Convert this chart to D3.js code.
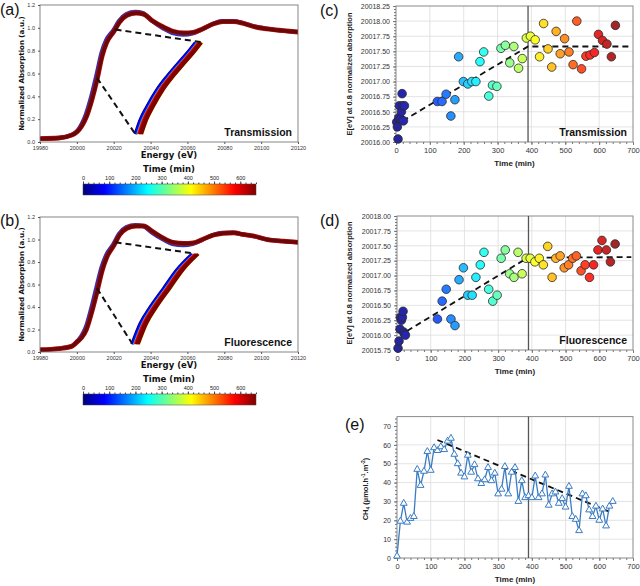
<!DOCTYPE html>
<html>
<head>
<meta charset="utf-8">
<script src="https://cdn.jsdelivr.net/npm/d3@7"></script>
<style>
  body { margin: 0; background: #fff; }
  svg { display: block; }
</style>
</head>
<body>
<div id="chart"></div>
<script>
// ---- XANES spectra ----
var energy = [19980, 19990, 19997, 20000, 20002.5, 20005, 20008, 20011, 20013.5, 20016, 20020, 20023, 20027, 20032, 20036, 20041, 20047, 20052, 20058, 20063, 20068, 20074, 20079, 20085, 20090, 20096, 20103, 20112, 20120];
var muEarlyA = [0.03, 0.035, 0.06, 0.09, 0.15, 0.24, 0.40, 0.60, 0.78, 0.89, 0.98, 1.06, 1.12, 1.14, 1.13, 1.06, 0.995, 0.955, 0.94, 0.95, 0.985, 1.035, 1.06, 1.06, 1.045, 1.015, 0.995, 0.975, 0.963];
var muLateA  = [0.03, 0.035, 0.06, 0.09, 0.14, 0.22, 0.37, 0.56, 0.75, 0.87, 0.97, 1.05, 1.11, 1.13, 1.12, 1.06, 1.005, 0.97, 0.955, 0.96, 0.99, 1.035, 1.055, 1.055, 1.04, 1.01, 0.99, 0.975, 0.963];
var muEarlyB = [0.02, 0.03, 0.05, 0.09, 0.14, 0.22, 0.39, 0.59, 0.75, 0.86, 0.96, 1.05, 1.11, 1.13, 1.12, 1.06, 1.0, 0.96, 0.95, 0.96, 0.995, 1.04, 1.06, 1.06, 1.045, 1.03, 1.0, 0.985, 0.975];
var muLateB  = [0.02, 0.03, 0.05, 0.09, 0.13, 0.20, 0.36, 0.55, 0.72, 0.84, 0.95, 1.04, 1.10, 1.12, 1.12, 1.07, 1.01, 0.975, 0.965, 0.97, 1.0, 1.04, 1.055, 1.06, 1.045, 1.03, 1.0, 0.985, 0.975];

// zoomed edge region (leftmost curve) and the shift of each time step
var insetEnergyA = [20031.5, 20034.2, 20037.8, 20043.2, 20048.6, 20054, 20059.5, 20064];
var insetMuA = [0.07, 0.195, 0.31, 0.458, 0.574, 0.676, 0.778, 0.87];
var insetEnergyB = [20029.7, 20034.2, 20039.6, 20046.8, 20054, 20062.2];
var insetMuB = [0.07, 0.254, 0.40, 0.565, 0.73, 0.87];
var insetTimes = [400, 0, 40, 90, 200, 480, 580, 640, 660, 660, 660];
var insetShifts = [4.1, 0, 0.35, 0.7, 1.1, 1.5, 1.9, 2.4, 2.9, 3.4, 3.8];

var dashA = [[[20021, 0.985], [20067.5, 0.875]], [[20011, 0.56], [20031.5, 0.075]]];
var dashB = [[[20021, 0.975], [20064, 0.875]], [[20011, 0.565], [20030, 0.075]]];

// ---- edge position vs time ----
var timeC = [2, 4, 6, 8, 10, 14, 16, 18, 20, 22, 25, 122, 136, 148, 162, 174, 185, 199, 212, 224, 236, 248, 259, 274, 285, 298, 310, 323, 336, 348, 362, 373, 385, 397, 411, 424, 436, 449, 460, 473, 485, 498, 511, 523, 534, 548, 561, 573, 586, 598, 610, 623, 636, 648];
var edgeC = [20016.33, 20016.25, 20016.05, 20016.40, 20016.60, 20016.38, 20016.50, 20016.80, 20016.60, 20016.35, 20016.60, 20016.67, 20016.67, 20016.79, 20016.43, 20016.70, 20017.41, 20017.00, 20016.96, 20017.00, 20017.00, 20017.33, 20017.49, 20016.76, 20016.94, 20016.92, 20017.55, 20017.60, 20017.31, 20017.58, 20017.22, 20017.38, 20017.72, 20017.75, 20017.69, 20017.41, 20017.96, 20017.54, 20017.24, 20017.83, 20017.46, 20017.71, 20017.49, 20017.28, 20018.00, 20017.21, 20017.42, 20017.44, 20017.48, 20017.78, 20017.68, 20017.62, 20017.41, 20017.93];
var fitC = [[20, 20016.35], [390, 20017.58], [695, 20017.58]];

var timeD = [3, 6, 9, 10, 13, 16, 18, 20, 22, 25, 120, 134, 146, 160, 172, 184, 197, 210, 223, 234, 247, 258, 272, 284, 297, 309, 321, 334, 347, 359, 371, 383, 395, 409, 422, 434, 447, 460, 471, 484, 496, 509, 521, 532, 546, 558, 571, 583, 596, 608, 621, 633, 647];
var edgeD = [20015.78, 20015.90, 20016.10, 20016.30, 20016.25, 20016.30, 20016.40, 20016.05, 20016.02, 20016.00, 20016.27, 20016.57, 20016.77, 20016.27, 20016.16, 20016.93, 20017.13, 20016.67, 20016.67, 20016.97, 20017.18, 20017.39, 20016.77, 20016.57, 20016.67, 20017.29, 20017.43, 20017.03, 20016.97, 20017.39, 20017.03, 20017.29, 20017.29, 20017.23, 20017.29, 20017.18, 20017.49, 20016.97, 20017.29, 20017.33, 20017.13, 20017.18, 20017.29, 20017.33, 20017.08, 20017.18, 20016.97, 20017.18, 20017.43, 20017.59, 20017.43, 20017.23, 20017.53];
var fitD = [[30, 20016.07], [388, 20017.30], [695, 20017.31]];

// ---- CH4 production ----
var timeE = [0, 10, 20, 30, 40, 50, 60, 70, 80, 90, 100, 110, 120, 130, 140, 150, 160, 170, 180, 190, 200, 210, 220, 230, 240, 250, 260, 270, 280, 290, 300, 310, 320, 330, 340, 350, 360, 370, 380, 390, 400, 410, 420, 430, 440, 450, 460, 470, 480, 490, 500, 510, 520, 530, 540, 550, 560, 570, 580, 590, 600, 610, 620, 630, 640];
var ch4E = [1, 19.5, 29, 19, 21, 22, 47, 38.5, 46, 56.5, 46.5, 58.5, 57, 59, 57.5, 62, 63.5, 55, 50, 45, 43, 54.5, 45.5, 49.5, 42, 39.5, 41.5, 48, 41, 45, 34, 36.5, 48.5, 34, 45.5, 48, 30, 41, 32, 33, 32, 43.5, 32, 34, 44, 28, 34, 35, 29, 31.5, 27, 38, 22, 20.5, 14.5, 34, 33, 25.5, 22, 27.5, 20, 26, 17, 27.5, 30];
var fitE = [[120, 62.6], [640, 23.8]];

var stepTime = 390;
var colorbarTicks = [0, 100, 200, 300, 400, 500, 600];

// jet colour map over 0-660 min
var jetPos = [0, 0.125, 0.375, 0.625, 0.875, 1];
var jetCol = ["#00007f", "#0000ff", "#00ffff", "#ffff00", "#ff0000", "#7f0000"];
var jet = d3.scaleLinear().domain(jetPos.map(function(p) { return p * 660; })).range(jetCol).clamp(true);
function pointColor(t) { return d3.interpolateRgb(jet(t), "#ffffff")(0.15); }

var svg = d3.select("#chart").append("svg").attr("width", 640).attr("height", 586)
    .style("font-family", "'Liberation Sans', Arial, sans-serif");

function panelLabel(txt, x, y) {
    svg.append("text").attr("x", x).attr("y", y).attr("font-size", 16).attr("fill", "#111").text(txt);
}

/* ---------------- XANES panels ---------------- */
function xanesPanel(top, bottom, early, late, insetE, insetMu, dashes, mode) {
    var x = d3.scaleLinear().domain([19980, 20120]).range([40, 298]);
    var y = d3.scaleLinear().domain([0, 1.2]).range([bottom, top]);
    var g = svg.append("g").style("font-family", "'DejaVu Sans', sans-serif");

    var clipId = "clip" + top;
    g.append("clipPath").attr("id", clipId).append("rect")
        .attr("x", 40).attr("y", top).attr("width", 258).attr("height", bottom - top);

    var line = d3.line().curve(d3.curveMonotoneX);
    var plot = g.append("g").attr("clip-path", "url(#" + clipId + ")");

    plot.append("path").datum(energy.map(function(e, i) { return [x(e) - 0.4, y(early[i])]; }))
        .attr("d", line).attr("fill", "none").attr("stroke", "#2a34c0").attr("stroke-width", 4);
    plot.append("path").datum(energy.map(function(e, i) { return [x(e) + 0.3, y(late[i])]; }))
        .attr("d", line).attr("fill", "none").attr("stroke", "#b40c0c").attr("stroke-width", 4.8);
    plot.append("path").datum(energy.map(function(e, i) { return [x(e) + 0.3, y(late[i])]; }))
        .attr("d", line).attr("fill", "none").attr("stroke", "#6a0808").attr("stroke-width", 3.4);

    insetTimes.forEach(function(t, k) {
        plot.append("path").datum(insetE.map(function(e, i) { return [x(e + insetShifts[k]), y(insetMu[i])]; }))
            .attr("d", line).attr("fill", "none").attr("stroke", jet(t))
            .attr("stroke-width", (t === 200 || t === 480) ? 1.4 : (t === 400 ? 2 : 2.6));
    });

    dashes.forEach(function(seg) {
        g.append("line")
            .attr("x1", x(seg[0][0])).attr("y1", y(seg[0][1]))
            .attr("x2", x(seg[1][0])).attr("y2", y(seg[1][1]))
            .attr("stroke", "#111").attr("stroke-width", 2).attr("stroke-dasharray", "6,4");
    });

    g.append("rect").attr("x", 40).attr("y", top).attr("width", 258).attr("height", bottom - top)
        .attr("fill", "none").attr("stroke", "#666").attr("stroke-width", 0.8);

    g.append("g").attr("transform", "translate(0," + bottom + ")")
        .call(d3.axisBottom(x).tickValues(d3.range(19980, 20121, 20)).tickSize(2).tickFormat(d3.format("d")))
        .call(function(a) {
            a.select(".domain").remove();
            a.selectAll("text").attr("font-size", 5.5).attr("fill", "#333").attr("dy", "0.5em");
            a.selectAll("line").attr("stroke", "#555");
        });
    g.append("g").attr("transform", "translate(40,0)")
        .call(d3.axisLeft(y).tickValues(d3.range(0, 1.21, 0.2)).tickSize(2).tickFormat(d3.format(".1f")))
        .call(function(a) {
            a.select(".domain").remove();
            a.selectAll("text").attr("font-size", 5.5).attr("fill", "#333");
            a.selectAll("line").attr("stroke", "#555");
        });

    g.append("text").attr("x", 169).attr("y", bottom + 16).attr("text-anchor", "middle")
        .attr("font-size", 8.5).attr("font-weight", "bold").attr("fill", "#111").text("Energy (eV)");
    g.append("text").attr("transform", "translate(24," + ((top + bottom) / 2) + ") rotate(-90)")
        .attr("text-anchor", "middle").attr("font-size", 7).attr("font-weight", "bold").attr("fill", "#111")
        .text("Normalized Absorption (a.u.)");
    svg.append("text").attr("x", 292).attr("y", bottom - 6).attr("text-anchor", "end")
        .attr("font-size", 10.5).attr("font-weight", "bold").attr("fill", "#111").text(mode);
}

function colorbar(barTop) {
    var cx = d3.scaleLinear().domain([0, 660]).range([83, 256]);
    var gid = "grad" + barTop;
    var grad = svg.append("defs").append("linearGradient").attr("id", gid)
        .attr("x1", "0%").attr("x2", "100%").attr("y1", "0%").attr("y2", "0%");
    jetPos.forEach(function(p, i) {
        grad.append("stop").attr("offset", (p * 100) + "%").attr("stop-color", jetCol[i]);
    });
    svg.append("rect").attr("x", 83).attr("y", barTop).attr("width", 173).attr("height", 11)
        .attr("fill", "url(#" + gid + ")").attr("stroke", "#444").attr("stroke-width", 0.5);
    var g = svg.append("g").style("font-family", "'DejaVu Sans', sans-serif");
    g.append("g").attr("transform", "translate(0," + barTop + ")")
        .call(d3.axisTop(cx).tickValues(d3.range(0, 661, 20)).tickSize(1.5).tickFormat(""))
        .call(function(a) { a.select(".domain").remove(); a.selectAll("line").attr("stroke", "#444"); });
    g.append("g").attr("transform", "translate(0," + barTop + ")")
        .call(d3.axisTop(cx).tickValues(colorbarTicks).tickSize(2.5).tickPadding(2))
        .call(function(a) {
            a.select(".domain").remove();
            a.selectAll("line").attr("stroke", "#444");
            a.selectAll("text").attr("font-size", 5.5).attr("fill", "#222");
        });
    g.append("text").attr("x", 169).attr("y", barTop - 12).attr("text-anchor", "middle")
        .attr("font-size", 8.5).attr("font-weight", "bold").attr("fill", "#111").text("Time (min)");
}

/* ---------------- Excel-style panels ---------------- */
function framePanel(x, y, yTicks, yFmt, minorStep) {
    var g = svg.append("g");
    var x0 = x.range()[0], x1 = x.range()[1], yb = y.range()[0], yt = y.range()[1];
    g.selectAll(".vg").data(x.ticks(7).slice(1, -1)).enter().append("line")
        .attr("x1", function(d) { return x(d); }).attr("x2", function(d) { return x(d); })
        .attr("y1", yt).attr("y2", yb).attr("stroke", "#dcdcdc").attr("stroke-width", 0.8);
    g.selectAll(".hg").data(yTicks.slice(1, -1)).enter().append("line")
        .attr("y1", function(d) { return y(d); }).attr("y2", function(d) { return y(d); })
        .attr("x1", x0).attr("x2", x1).attr("stroke", "#dcdcdc").attr("stroke-width", 0.8);
    g.append("rect").attr("x", x0).attr("y", yt).attr("width", x1 - x0).attr("height", yb - yt)
        .attr("fill", "none").attr("stroke", "#8a8a8a").attr("stroke-width", 1);

    g.append("g").attr("transform", "translate(0," + yb + ")")
        .call(d3.axisBottom(x).tickValues(d3.range(0, 701, 20)).tickSize(2).tickFormat(""))
        .call(function(a) { a.select(".domain").remove(); a.selectAll("line").attr("stroke", "#777"); });
    g.append("g").attr("transform", "translate(0," + yb + ")")
        .call(d3.axisBottom(x).ticks(7).tickSize(3).tickPadding(3))
        .call(function(a) {
            a.select(".domain").remove();
            a.selectAll("line").attr("stroke", "#777");
            a.selectAll("text").attr("font-size", 7.5).attr("fill", "#333");
        });
    var yd = y.domain();
    g.append("g").attr("transform", "translate(" + x0 + ",0)")
        .call(d3.axisLeft(y).tickValues(d3.range(yd[0], yd[1] + 1e-6, minorStep)).tickSize(2).tickFormat(""))
        .call(function(a) { a.select(".domain").remove(); a.selectAll("line").attr("stroke", "#777"); });
    g.append("g").attr("transform", "translate(" + x0 + ",0)")
        .call(d3.axisLeft(y).tickValues(yTicks).tickSize(3).tickPadding(3).tickFormat(d3.format(yFmt)))
        .call(function(a) {
            a.select(".domain").remove();
            a.selectAll("line").attr("stroke", "#777");
            a.selectAll("text").attr("font-size", 7).attr("fill", "#333");
        });
    g.append("line").attr("x1", x(stepTime)).attr("x2", x(stepTime)).attr("y1", yt).attr("y2", yb)
        .attr("stroke", "#555").attr("stroke-width", 1.3);
    g.append("text").attr("x", (x0 + x1) / 2).attr("y", yb + 24).attr("text-anchor", "middle")
        .attr("font-size", 8).attr("font-weight", "bold").attr("fill", "#222").text("Time (min)");
    return g;
}

function edgePanel(yDomain, yRange, times, values, fit, mode, xLeft) {
    var x = d3.scaleLinear().domain([0, 700]).range([xLeft, 633]);
    var y = d3.scaleLinear().domain(yDomain).range(yRange);
    var yTicks = d3.range(yDomain[0], yDomain[1] + 1e-6, 0.25);
    var g = framePanel(x, y, yTicks, ".2f", 0.05);

    g.append("path").datum(fit)
        .attr("d", d3.line().x(function(d) { return x(d[0]); }).y(function(d) { return y(d[1]); }))
        .attr("fill", "none").attr("stroke", "#111").attr("stroke-width", 1.8).attr("stroke-dasharray", "6,4");

    g.selectAll(".pt").data(times).enter().append("circle")
        .attr("cx", function(d) { return x(d); })
        .attr("cy", function(d, i) { return y(values[i]); })
        .attr("r", 4.3)
        .attr("fill", function(d) { return pointColor(d); })
        .attr("stroke", "#2a2a2a").attr("stroke-width", 0.8);

    g.append("text").attr("transform", "translate(352," + ((yRange[0] + yRange[1]) / 2) + ") rotate(-90)")
        .attr("text-anchor", "middle").attr("font-size", 7.5).attr("font-weight", "bold").attr("fill", "#222")
        .text("E[eV] at 0.8 normalized absorption");
    g.append("text").attr("x", 627).attr("y", yRange[0] - 6).attr("text-anchor", "end")
        .attr("font-size", 10.5).attr("font-weight", "bold").attr("fill", "#111").text(mode);
}

function ch4Panel() {
    var x = d3.scaleLinear().domain([0, 700]).range([397, 633]);
    var y = d3.scaleLinear().domain([0, 75]).range([558, 416.6]);
    var g = framePanel(x, y, d3.range(0, 71, 10), "d", 2);

    g.append("path").datum(fitE)
        .attr("d", d3.line().x(function(d) { return x(d[0]); }).y(function(d) { return y(d[1]); }))
        .attr("fill", "none").attr("stroke", "#111").attr("stroke-width", 1.8).attr("stroke-dasharray", "6,4");

    g.append("path").datum(timeE)
        .attr("d", d3.line().x(function(d) { return x(d); }).y(function(d, i) { return y(ch4E[i]); }))
        .attr("fill", "none").attr("stroke", "#3a7cc4").attr("stroke-width", 1.3);

    g.selectAll(".tri").data(timeE).enter().append("path")
        .attr("transform", function(d, i) { return "translate(" + x(d) + "," + y(ch4E[i]) + ")"; })
        .attr("d", d3.symbol().type(d3.symbolTriangle).size(20))
        .attr("fill", "#fff").attr("stroke", "#3a7cc4").attr("stroke-width", 1);

    var t = g.append("text").attr("transform", "translate(368,489) rotate(-90)")
        .attr("text-anchor", "middle").attr("font-size", 7.5).attr("font-weight", "bold").attr("fill", "#222");
    t.append("tspan").text("CH");
    t.append("tspan").attr("font-size", 5).attr("dy", 2).text("4");
    t.append("tspan").attr("dy", -2).text(" (µmol.h");
    t.append("tspan").attr("font-size", 5).attr("dy", -3).text("-1");
    t.append("tspan").attr("dy", 3).text(".m");
    t.append("tspan").attr("font-size", 5).attr("dy", -3).text("-2");
    t.append("tspan").attr("dy", 3).text(")");
}

xanesPanel(5, 142, muEarlyA, muLateA, insetEnergyA, insetMuA, dashA, "Transmission");
colorbar(184);
xanesPanel(217, 352, muEarlyB, muLateB, insetEnergyB, insetMuB, dashB, "Fluorescence");
colorbar(394);

edgePanel([20016, 20018.25], [142, 6], timeC, edgeC, fitC, "Transmission", 396);
edgePanel([20015.75, 20018], [350, 216], timeD, edgeD, fitD, "Fluorescence", 397);
ch4Panel();

panelLabel("(a)", 0, 15);
panelLabel("(b)", 0, 226);
panelLabel("(c)", 320, 16);
panelLabel("(d)", 320, 226);
panelLabel("(e)", 345, 430);
</script>
</body>
</html>
